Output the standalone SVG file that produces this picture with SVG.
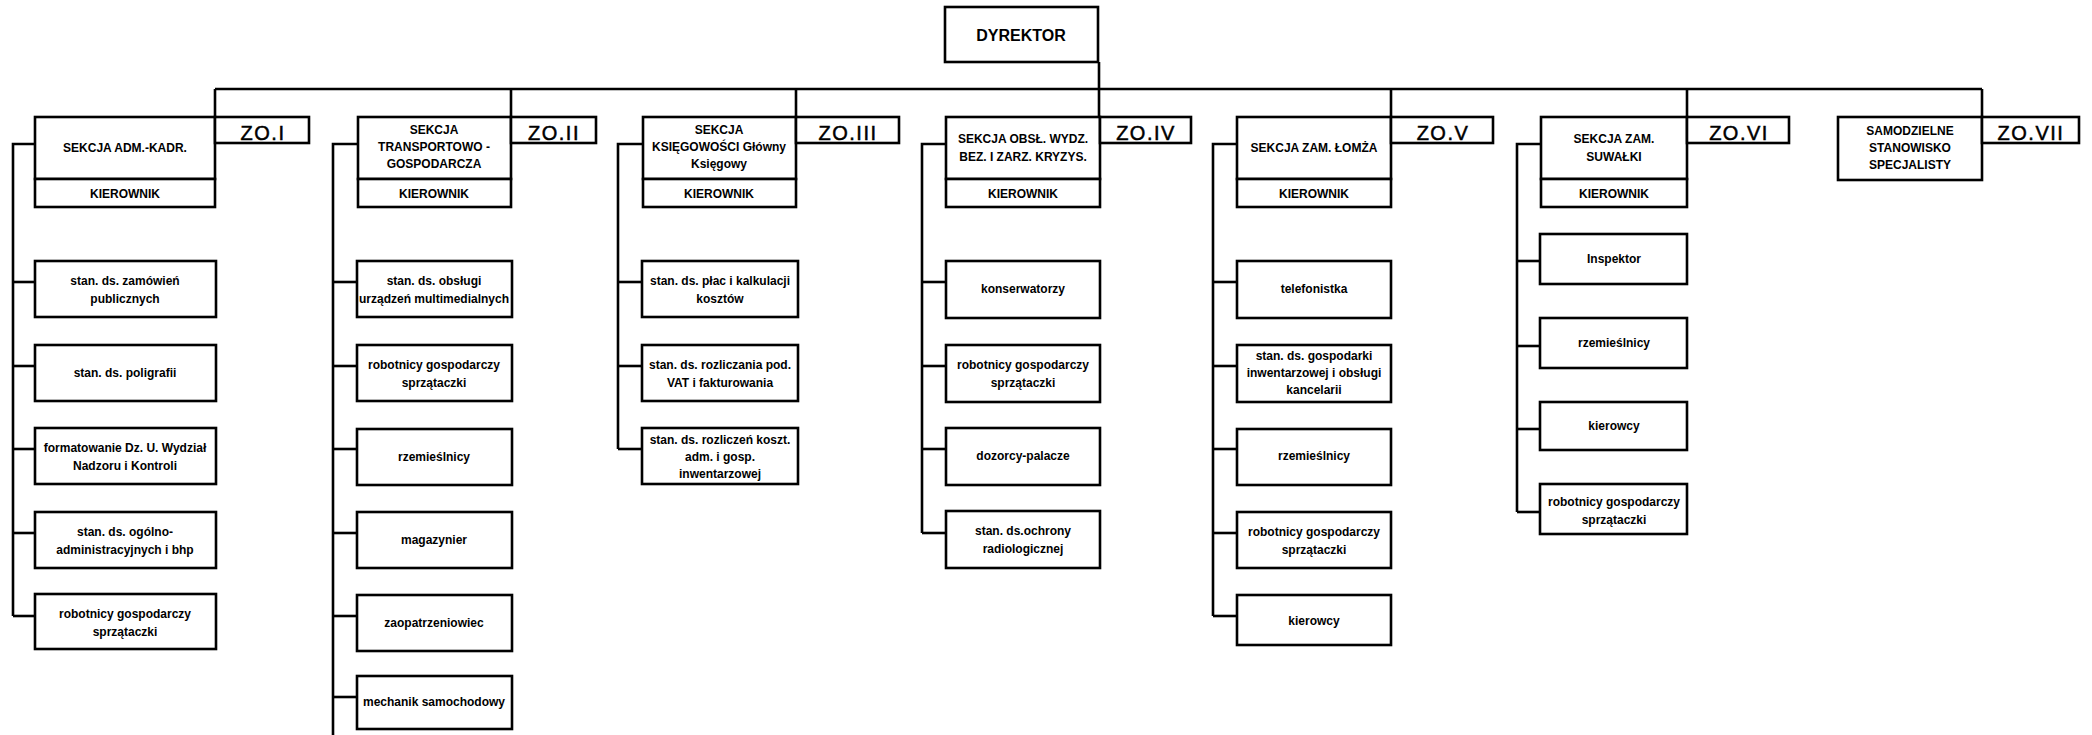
<svg xmlns="http://www.w3.org/2000/svg" width="2092" height="735" viewBox="0 0 2092 735">
<style>
rect{fill:#fff;stroke:#000;stroke-width:2.6}
.c line,.c polyline{stroke:#000;stroke-width:2.6;fill:none}
text{font-family:"Liberation Sans",Arial,sans-serif;fill:#000;text-anchor:middle}
.h{font-size:12px;font-weight:bold}
.s{font-size:12px;font-weight:bold}
.z{font-size:20px;letter-spacing:1.5px;stroke:#000;stroke-width:0.5}
.d{font-size:16px;font-weight:bold}
</style>
<rect width="2092" height="735" style="fill:#fff;stroke:none"/>
<g class="c" id="connectors">
<line x1="215" y1="89" x2="1982" y2="89"/>
<line x1="215" y1="89" x2="215" y2="117"/>
<line x1="511" y1="89" x2="511" y2="117"/>
<line x1="796" y1="89" x2="796" y2="117"/>
<line x1="1099" y1="62" x2="1099" y2="117"/>
<line x1="1391" y1="89" x2="1391" y2="117"/>
<line x1="1687" y1="89" x2="1687" y2="117"/>
<line x1="1982" y1="89" x2="1982" y2="117"/>
<polyline points="35,144 13,144 13,616"/>
<line x1="13" y1="282" x2="35" y2="282"/><line x1="13" y1="366" x2="35" y2="366"/><line x1="13" y1="449" x2="35" y2="449"/><line x1="13" y1="533" x2="35" y2="533"/><line x1="13" y1="616" x2="35" y2="616"/>
<polyline points="358,144 333,144 333,735"/>
<line x1="333" y1="282" x2="357" y2="282"/><line x1="333" y1="366" x2="357" y2="366"/><line x1="333" y1="449" x2="357" y2="449"/><line x1="333" y1="533" x2="357" y2="533"/><line x1="333" y1="616" x2="357" y2="616"/><line x1="333" y1="697" x2="357" y2="697"/>
<polyline points="643,144 618,144 618,449"/>
<line x1="618" y1="282" x2="642" y2="282"/><line x1="618" y1="366" x2="642" y2="366"/><line x1="618" y1="449" x2="642" y2="449"/>
<polyline points="946,144 922,144 922,533"/>
<line x1="922" y1="282" x2="946" y2="282"/><line x1="922" y1="366" x2="946" y2="366"/><line x1="922" y1="449" x2="946" y2="449"/><line x1="922" y1="533" x2="946" y2="533"/>
<polyline points="1237,144 1213,144 1213,616"/>
<line x1="1213" y1="282" x2="1237" y2="282"/><line x1="1213" y1="366" x2="1237" y2="366"/><line x1="1213" y1="449" x2="1237" y2="449"/><line x1="1213" y1="533" x2="1237" y2="533"/><line x1="1213" y1="616" x2="1237" y2="616"/>
<polyline points="1541,144 1517,144 1517,512"/>
<line x1="1517" y1="261" x2="1540" y2="261"/><line x1="1517" y1="346" x2="1540" y2="346"/><line x1="1517" y1="429" x2="1540" y2="429"/><line x1="1517" y1="512" x2="1540" y2="512"/>
</g>
<g id="dyrektor"><rect x="945" y="7" width="153" height="55"/><text class="d" x="1021" y="41">DYREKTOR</text></g>

<g id="sekcja1"><rect x="35" y="117" width="180" height="62"/><rect x="35" y="179" width="180" height="28"/>
<text class="h" x="125" y="152">SEKCJA ADM.-KADR.</text><text class="h" x="125" y="198">KIEROWNIK</text></g>
<g id="zo1"><rect x="215" y="117" width="94" height="26"/><text class="z" x="263" y="140">ZO.I</text></g>
<g id="sekcja2"><rect x="358" y="117" width="153" height="62"/><rect x="358" y="179" width="153" height="28"/>
<text class="h" x="434" y="134">SEKCJA</text><text class="h" x="434" y="151">TRANSPORTOWO -</text><text class="h" x="434" y="168">GOSPODARCZA</text><text class="h" x="434" y="198">KIEROWNIK</text></g>
<g id="zo2"><rect x="511" y="117" width="85" height="26"/><text class="z" x="554" y="140">ZO.II</text></g>
<g id="sekcja3"><rect x="643" y="117" width="153" height="62"/><rect x="643" y="179" width="153" height="28"/>
<text class="h" x="719" y="134">SEKCJA</text><text class="h" x="719" y="151">KSIĘGOWOŚCI  Główny</text><text class="h" x="719" y="168">Księgowy</text><text class="h" x="719" y="198">KIEROWNIK</text></g>
<g id="zo3"><rect x="796" y="117" width="103" height="26"/><text class="z" x="848" y="140">ZO.III</text></g>
<g id="sekcja4"><rect x="946" y="117" width="154" height="62"/><rect x="946" y="179" width="154" height="28"/>
<text class="h" x="1023" y="143">SEKCJA OBSŁ. WYDZ.</text><text class="h" x="1023" y="161">BEZ. I ZARZ. KRYZYS.</text><text class="h" x="1023" y="198">KIEROWNIK</text></g>
<g id="zo4"><rect x="1100" y="117" width="91" height="26"/><text class="z" x="1146" y="140">ZO.IV</text></g>
<g id="sekcja5"><rect x="1237" y="117" width="154" height="62"/><rect x="1237" y="179" width="154" height="28"/>
<text class="h" x="1314" y="152">SEKCJA ZAM. ŁOMŻA</text><text class="h" x="1314" y="198">KIEROWNIK</text></g>
<g id="zo5"><rect x="1391" y="117" width="102" height="26"/><text class="z" x="1443" y="140">ZO.V</text></g>
<g id="sekcja6"><rect x="1541" y="117" width="146" height="62"/><rect x="1541" y="179" width="146" height="28"/>
<text class="h" x="1614" y="143">SEKCJA ZAM.</text><text class="h" x="1614" y="161">SUWAŁKI</text><text class="h" x="1614" y="198">KIEROWNIK</text></g>
<g id="zo6"><rect x="1687" y="117" width="102" height="26"/><text class="z" x="1739" y="140">ZO.VI</text></g>
<g id="samodzielne"><rect x="1838" y="117" width="144" height="63"/>
<text class="h" x="1910" y="135">SAMODZIELNE</text><text class="h" x="1910" y="152">STANOWISKO</text><text class="h" x="1910" y="169">SPECJALISTY</text></g>
<g id="zo7"><rect x="1982" y="117" width="97" height="26"/><text class="z" x="2031" y="140">ZO.VII</text></g>

<g id="c1r1"><rect x="35" y="261" width="181" height="56"/><text class="s" x="125" y="285">stan. ds. zamówień</text><text class="s" x="125" y="303">publicznych</text></g>
<g id="c1r2"><rect x="35" y="345" width="181" height="56"/><text class="s" x="125" y="377">stan. ds. poligrafii</text></g>
<g id="c1r3"><rect x="35" y="428" width="181" height="56"/><text class="s" x="125" y="452">formatowanie Dz. U. Wydział</text><text class="s" x="125" y="470">Nadzoru i Kontroli</text></g>
<g id="c1r4"><rect x="35" y="512" width="181" height="56"/><text class="s" x="125" y="536">stan. ds. ogólno-</text><text class="s" x="125" y="554">administracyjnych i bhp</text></g>
<g id="c1r5"><rect x="35" y="594" width="181" height="55"/><text class="s" x="125" y="618">robotnicy gospodarczy</text><text class="s" x="125" y="636">sprzątaczki</text></g>

<g id="c2r1"><rect x="357" y="261" width="155" height="56"/><text class="s" x="434" y="285">stan. ds. obsługi</text><text class="s" x="434" y="303">urządzeń multimedialnych</text></g>
<g id="c2r2"><rect x="357" y="345" width="155" height="56"/><text class="s" x="434" y="369">robotnicy gospodarczy</text><text class="s" x="434" y="387">sprzątaczki</text></g>
<g id="c2r3"><rect x="357" y="429" width="155" height="56"/><text class="s" x="434" y="461">rzemieślnicy</text></g>
<g id="c2r4"><rect x="357" y="512" width="155" height="56"/><text class="s" x="434" y="544">magazynier</text></g>
<g id="c2r5"><rect x="357" y="595" width="155" height="56"/><text class="s" x="434" y="627">zaopatrzeniowiec</text></g>
<g id="c2r6"><rect x="357" y="676" width="155" height="53"/><text class="s" x="434" y="706">mechanik samochodowy</text></g>

<g id="c3r1"><rect x="642" y="261" width="156" height="56"/><text class="s" x="720" y="285">stan. ds. płac i kalkulacji</text><text class="s" x="720" y="303">kosztów</text></g>
<g id="c3r2"><rect x="642" y="345" width="156" height="56"/><text class="s" x="720" y="369">stan. ds. rozliczania pod.</text><text class="s" x="720" y="387">VAT i fakturowania</text></g>
<g id="c3r3"><rect x="642" y="428" width="156" height="56"/><text class="s" x="720" y="444">stan. ds. rozliczeń koszt.</text><text class="s" x="720" y="461">adm. i gosp.</text><text class="s" x="720" y="478">inwentarzowej</text></g>

<g id="c4r1"><rect x="946" y="261" width="154" height="57"/><text class="s" x="1023" y="293">konserwatorzy</text></g>
<g id="c4r2"><rect x="946" y="345" width="154" height="57"/><text class="s" x="1023" y="369">robotnicy gospodarczy</text><text class="s" x="1023" y="387">sprzątaczki</text></g>
<g id="c4r3"><rect x="946" y="428" width="154" height="57"/><text class="s" x="1023" y="460">dozorcy-palacze</text></g>
<g id="c4r4"><rect x="946" y="511" width="154" height="57"/><text class="s" x="1023" y="535">stan. ds.ochrony</text><text class="s" x="1023" y="553">radiologicznej</text></g>

<g id="c5r1"><rect x="1237" y="261" width="154" height="57"/><text class="s" x="1314" y="293">telefonistka</text></g>
<g id="c5r2"><rect x="1237" y="345" width="154" height="57"/><text class="s" x="1314" y="360">stan. ds. gospodarki</text><text class="s" x="1314" y="377">inwentarzowej i obsługi</text><text class="s" x="1314" y="394">kancelarii</text></g>
<g id="c5r3"><rect x="1237" y="429" width="154" height="56"/><text class="s" x="1314" y="460">rzemieślnicy</text></g>
<g id="c5r4"><rect x="1237" y="512" width="154" height="56"/><text class="s" x="1314" y="536">robotnicy gospodarczy</text><text class="s" x="1314" y="554">sprzątaczki</text></g>
<g id="c5r5"><rect x="1237" y="595" width="154" height="50"/><text class="s" x="1314" y="625">kierowcy</text></g>

<g id="c6r1"><rect x="1540" y="234" width="147" height="50"/><text class="s" x="1614" y="263">Inspektor</text></g>
<g id="c6r2"><rect x="1540" y="318" width="147" height="50"/><text class="s" x="1614" y="347">rzemieślnicy</text></g>
<g id="c6r3"><rect x="1540" y="402" width="147" height="48"/><text class="s" x="1614" y="430">kierowcy</text></g>
<g id="c6r4"><rect x="1540" y="484" width="147" height="50"/><text class="s" x="1614" y="506">robotnicy gospodarczy</text><text class="s" x="1614" y="524">sprzątaczki</text></g>
</svg>
